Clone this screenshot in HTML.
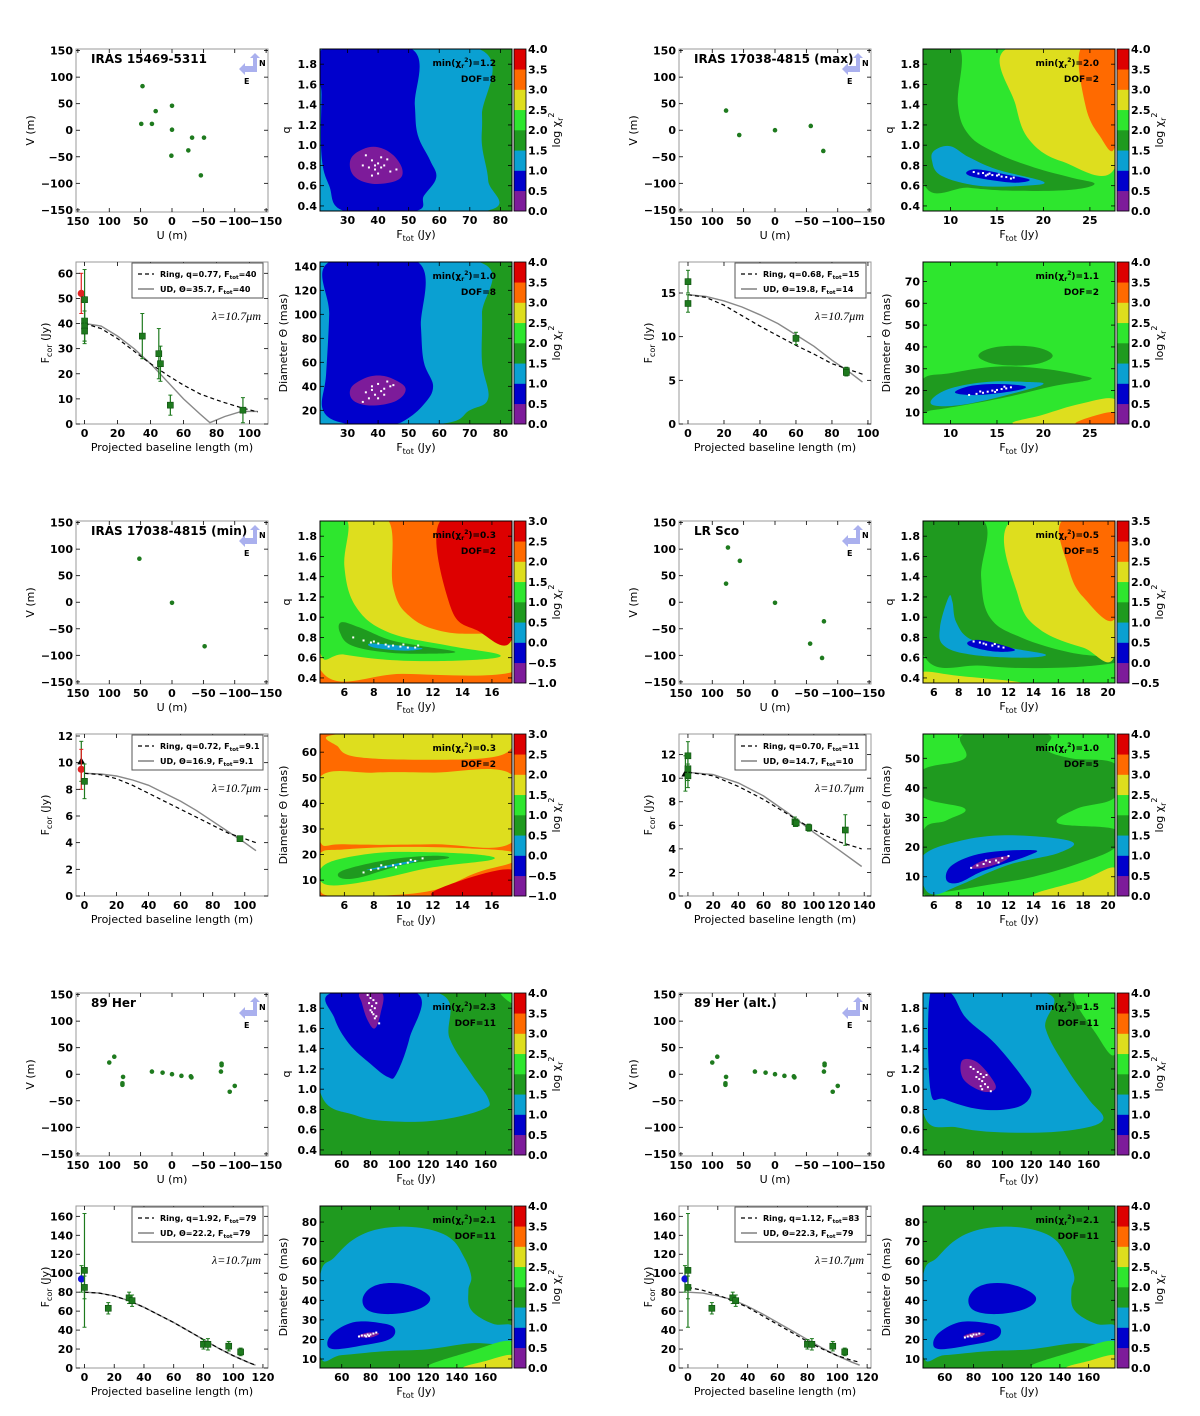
<!DOCTYPE html>
<html><head><meta charset="utf-8"><title>Interferometry fits</title>
<style>
html,body{margin:0;padding:0;background:#fff;}
svg{display:block;font-family:"DejaVu Sans","Liberation Sans",sans-serif;}
.tk{font-weight:bold;font-size:11px;fill:#000;}
.al{font-size:11px;fill:#000;}
</style></head>
<body>
<svg id="fig" width="1200" height="1416" viewBox="0 0 1200 1416" xmlns="http://www.w3.org/2000/svg"></svg>
<script>
// ---------- DATA ----------
const names=['IRAS 15469-5311','IRAS 17038-4815 (max)','IRAS 17038-4815 (min)','LR Sco','89 Her','89 Her (alt.)'];
// uv coverage
const uvU0=[47,26,0,49,32,0,-32,-51,-26,1,-46];
const uvV0=[83,36,46,12,12,1,-14,-14,-38,-48,-85];
const uvU1=[78,57,0,-57,-77];
const uvV1=[37,-9,0,8,-39];
const uvU2=[52,0,-52];
const uvV2=[82,-1,-83];
const uvU3=[75,56,78,0,-78,-56,-75];
const uvV3=[103,78,35,-1,-36,-78,-105];
const uvU4=[100,92,78,79,79,32,15,0,-15,-30,-31,-79,-79,-78,-92,-100];
const uvV4=[22,33,-5,-17,-20,5,3,0,-3,-4,-6,20,17,5,-33,-22];
const uvU5=[100,92,78,79,79,32,15,0,-15,-30,-31,-79,-79,-78,-92,-100];
const uvV5=[22,33,-5,-17,-20,5,3,0,-3,-4,-6,20,17,5,-33,-22];
// correlated flux measurements
const fxB0=[-2,0,0,0,0,35,45,46,52,96];
const fxF0=[52,49.5,41,39,37,35,28,24,7.5,5.5];
const fxE0=[8,12,8,6,5,9,10,7,4,5];
const fxC0=['r','g','g','g','g','g','g','g','g','g'];
const fxB1=[0,0,60,88,88];
const fxF1=[16.3,13.8,9.8,6.1,5.9];
const fxE1=[1.3,1,0.7,0.4,0.4];
const fxC1=['g','g','g','g','g'];
const fxB2=[-2,-2,0,97];
const fxF2=[10.1,9.5,8.6,4.3];
const fxE2=[1.5,1.5,1.3,0.2];
const fxC2=['k','r','g','g'];
const fxB3=[-2,0,0,0,85,86,96,125];
const fxF3=[10.4,11.9,10.8,10.2,6.3,6.2,5.8,5.6];
const fxE3=[1.5,1.2,1,1,0.4,0.3,0.3,1.3];
const fxC3=['k','g','g','g','g','g','g','g'];
const fxB4=[-2,0,0,16,30,32,80,83,97,105];
const fxF4=[94,103,85,63,74,71,25,25,23,17];
const fxE4=[14,60,12,6,6,6,5,6,5,4];
const fxC4=['b','g','g','g','g','g','g','g','g','g'];
const fxB5=[-2,0,0,16,30,32,80,83,97,105];
const fxF5=[94,103,85,63,74,71,25,25,23,17];
const fxE5=[14,60,12,6,6,6,5,6,5,4];
const fxC5=['b','g','g','g','g','g','g','g','g','g'];
// model curves
const mdB0=[0,10,20,30,40,50,60,70,76,85,95,105];
const ring0=[40,38,34,29,24,19.5,15.5,12,10.5,8.5,6.5,4.8];
const ud0=[40,39,35,30,24,17,10,4,0.5,3,5,5];
const mdB1=[0,10,20,30,40,50,60,70,80,90,97];
const ring1=[14.8,14.5,13.6,12.4,11.2,10.1,9,8,6.9,6.2,5.7];
const ud1=[14.8,14.6,14.1,13.4,12.5,11.5,10.2,8.9,7.3,5.9,4.8];
const mdB2=[0,10,20,30,40,50,60,70,80,90,100,107];
const ring2=[9.2,9.1,8.8,8.3,7.7,7.1,6.5,5.9,5.3,4.7,4.3,4.0];
const ud2=[9.2,9.15,9.0,8.7,8.3,7.7,7.1,6.4,5.6,4.8,4.0,3.4];
const mdB3=[0,20,40,60,80,100,120,138];
const ring3=[10.5,10.2,9.3,8.2,6.9,5.6,4.6,4.0];
const ud3=[10.5,10.3,9.6,8.5,7.0,5.4,3.9,2.5];
const mdB4=[0,10,20,30,40,50,60,70,80,90,100,110,115];
const ring4=[80,79,76,71,64,56,48,39,30,21,13,6,3];
const ud4=[80,79,76,71,64,56,48,39,30,21,13,6,3];
const mdB5=[0,10,20,30,40,50,60,70,80,90,100,110,115];
const ring5=[85,82,77,71,64,55,46,37,28,20,13,8,6];
const ud5=[80,79,76,72,65,57,48,39,30,21,13,6,3];
// chi2 contour regions (palette index, outline in data units)
const cqBg=[3,4,6,4,3,3];
const cdBg=[3,4,6,4,3,3];
const cq0=[[2,[[21,1.95],[73,1.95],[74,1.3],[74,1.0],[76,0.65],[75,0.35],[21,0.35]]],
 [1,[[22,1.95],[51,1.95],[52,1.4],[53,1.1],[57,0.85],[59,0.68],[55,0.5],[52,0.35],[29,0.35],[24,0.6],[21.5,0.9],[21.5,1.5]]],
 [0,[[35,0.96],[31,0.86],[32,0.7],[38,0.62],[46,0.65],[48,0.75],[45,0.9],[40,0.98]]]];
const cd0=[[2,[[21,143.6],[73,143.6],[74,100],[74,60],[76,30],[70,20],[60,8.6],[21,8.6]]],
 [1,[[24,143.6],[53,143.6],[54,90],[55,60],[58,40],[55,25],[49,12],[44,8.6],[30,8.6],[22,20],[23,50],[24,100]]],
 [0,[[35,46],[31,38],[32,28],[38,24],[46,28],[49,38],[45,46],[40,49]]]];
const cq1=[[5,[[16,1.95],[27.7,1.95],[27.7,0.78],[22,0.84],[18.5,1.05],[17,1.4]]],
 [6,[[24,1.95],[27.7,1.95],[27.7,1.0],[26,1.1],[24.5,1.4]]],
 [3,[[7,1.95],[11,1.95],[10.8,1.4],[12,1.1],[15,0.92],[19,0.78],[23,0.68],[25.5,0.62],[23,0.56],[17,0.55],[12,0.58],[7,0.65]]],
 [2,[[8.3,0.95],[10,0.99],[12,0.88],[15,0.76],[20,0.64],[18,0.6],[13,0.6],[9,0.7],[8,0.85]]],
 [1,[[11.8,0.74],[13,0.76],[16,0.71],[18.5,0.66],[17,0.63],[14,0.66],[12,0.7]]]];
const cd1=[[5,[[17,4.7],[27.7,4.7],[27.7,16],[24,14],[20,9]]],
 [6,[[23.5,4.7],[27.7,4.7],[27.7,10],[25.5,8.5]]],
 [3,[[7,25],[10,28],[15,31],[20,30],[24,27],[25,25],[21,22],[16,17],[11,13],[8,11],[7,11]]],
 [3,[[13,36],[15,40],[19,40],[21,36],[19,32],[15,32]]],
 [2,[[8.5,13],[8,16],[10,21],[14,24],[18,24],[20,23],[17,19],[12,14]]],
 [1,[[10.5,19],[12,22],[15,23],[18,22],[17,20],[13,18]]]];
const cq2=[[5,[[6.2,1.95],[9,1.95],[9.3,1.3],[10.5,1.0],[13,0.85],[17.4,0.8],[17.4,0.46],[10,0.44],[4.3,0.5],[4.3,1.95]]],
 [7,[[12.5,1.95],[17.4,1.95],[17.4,0.8],[15,0.87],[13.2,1.1]]],
 [4,[[4.3,1.95],[6.2,1.95],[6,1.5],[6.8,1.1],[9,0.85],[13,0.72],[16.5,0.63],[15,0.58],[10,0.57],[6,0.63],[4.3,0.7]]],
 [3,[[5.8,0.95],[7,0.9],[9,0.78],[11,0.72],[13.5,0.66],[12,0.64],[9,0.65],[6.5,0.72],[5.7,0.85]]],
 [2,[[7.8,0.74],[10,0.715],[11.3,0.69],[10,0.67],[8,0.7]]]];
const cd2=[[5,[[5.8,67.1],[17.4,67.1],[17.4,62],[16,58],[12,57],[7,58],[5.6,62]]],
 [5,[[4.3,50],[8,52],[12,52],[17.4,51],[17.4,25],[12,24],[6,24],[4.3,26]]],
 [5,[[4.3,20],[6,22],[10,23],[14,22.5],[17.4,21],[17.4,17],[15,13],[12,6],[8,3.8],[5,3.8],[4.3,8]]],
 [7,[[12,3.8],[17.4,3.8],[17.4,14],[14,10]]],
 [4,[[4.3,12],[5,17],[8,20.5],[11,21],[15,20],[16,18],[12,15],[8,10],[5,8]]],
 [3,[[5.7,11],[6,14],[9,18],[12,19.5],[13,18.5],[10,16],[7,11]]],
 [2,[[7.5,14],[10,17],[11,17.5],[9,15]]]];
const cq3=[[3,[[5.1,1.95],[10,1.95],[9.8,1.4],[10.5,1.0],[13,0.8],[17,0.65],[20.6,0.6],[20.6,0.55],[16,0.5],[10,0.52],[5.1,0.65]]],
 [5,[[12.2,1.95],[20.6,1.95],[20.6,0.65],[18,0.7],[14.5,0.88],[12.8,1.2]]],
 [6,[[16.3,1.95],[20.6,1.95],[20.6,1.0],[18,1.2],[16.8,1.5]]],
 [5,[[5.1,0.35],[13,0.35],[8,0.42],[5.1,0.46]]],
 [2,[[7.2,1.2],[7.5,1.15],[7.8,0.95],[9,0.78],[12,0.7],[15,0.63],[13,0.6],[9,0.63],[6.8,0.72],[6.5,0.9]]],
 [1,[[8.8,0.76],[10,0.77],[12.5,0.68],[11,0.66],[9,0.71]]]];
const cd3=[[3,[[8.5,58.2],[15,58.2],[15,53],[17,50],[20.6,48],[20.6,37],[17.5,33],[16,28],[20.6,26],[20.6,20],[18,15],[14,10],[10,7],[7,5],[5.1,5],[5.1,25],[7,29],[8.5,33],[5.1,37],[5.1,46],[8.5,50]]],
 [5,[[14,3.5],[20.6,3.5],[20.6,13],[18,9]]],
 [2,[[5.1,8],[5.1,17],[8,22],[12,24],[17,22],[16,18],[12,14],[8,7],[6,4]]],
 [1,[[7,9],[7.5,14],[10,18],[14,19],[13.5,17],[10,12],[8,8]]],
 [0,[[9,13],[10,15.5],[12,17],[11.5,15],[10,13]]]];
const cq4=[[2,[[44.9,1.95],[127,1.95],[135,1.5],[150,1.15],[162,0.9],[158,0.8],[130,0.7],[100,0.68],[70,0.74],[44.9,0.98]]],
 [4,[[170,1.95],[178.3,1.95],[178.3,1.85]]],
 [1,[[53,1.95],[112,1.95],[107,1.5],[98,1.15],[92,1.12],[80,1.25],[65,1.45],[55,1.7]]],
 [0,[[73,1.95],[88,1.95],[87,1.75],[83,1.6],[78,1.68],[74,1.85]]]];
const cd4=[[2,[[44.9,52],[55,62],[70,72],[90,77],[115,77],[135,72],[145,62],[150,52],[148,45],[150,35],[165,28],[178.3,27],[178.3,18],[150,18],[120,15],[90,14],[60,12],[44.9,12]]],
 [4,[[120,5.4],[178.3,5.4],[178.3,19],[150,14]]],
 [5,[[145,5.4],[178.3,5.4],[178.3,12],[160,9]]],
 [1,[[75,42],[85,48],[105,48],[121,42],[115,36],[95,33],[78,35]]],
 [1,[[50,18],[55,24],[70,29],[90,28],[97,25],[93,20],[75,17],[55,15]]],
 [0,[[71,21.5],[78,23.5],[86,23],[80,21]]]];
const cq5=[[4,[[150,1.95],[178.3,1.95],[178.3,1.35],[165,1.55]]],
 [2,[[44.9,1.95],[130,1.95],[130,1.6],[145,1.2],[160,0.9],[170,0.7],[150,0.6],[110,0.57],[70,0.62],[44.9,0.78]]],
 [1,[[50,1.95],[64,1.95],[75,1.7],[95,1.45],[115,1.1],[120,0.95],[110,0.82],[85,0.8],[60,0.9],[50,1.0]]],
 [0,[[72,1.28],[82,1.27],[93,1.1],[95,1.0],[86,0.98],[73,1.1]]]];
const cd5=[[2,[[44.9,52],[55,62],[70,72],[90,77],[115,77],[135,72],[145,62],[150,52],[148,45],[150,35],[165,28],[178.3,27],[178.3,18],[150,18],[120,15],[90,14],[60,12],[44.9,12]]],
 [4,[[120,5.4],[178.3,5.4],[178.3,19],[150,14]]],
 [5,[[145,5.4],[178.3,5.4],[178.3,12],[160,9]]],
 [1,[[77,42],[87,48],[107,48],[123,42],[117,36],[97,33],[80,35]]],
 [1,[[52,18],[57,24],[72,29],[92,28],[99,25],[95,20],[77,17],[57,15]]],
 [0,[[73,21.5],[80,23.5],[88,23],[82,21]]]];
// best-fit samples (white dots)
const sq0=[[36,0.9],[38,0.85],[40,0.82],[41,0.78],[39,0.76],[42,0.8],[44,0.74],[37,0.78],[40,0.72],[43,0.86],[35,0.8],[41,0.88],[39,0.8],[46,0.76],[38,0.7]];
const sd0=[[36,35],[38,40],[40,42],[42,38],[44,40],[39,33],[37,30],[41,36],[43,44],[45,41],[38,37],[40,30],[35,27],[42,33]];
const sq1=[[12.5,0.735],[13,0.72],[13.5,0.725],[14,0.71],[14.5,0.705],[15,0.7],[15.5,0.69],[16,0.685],[16.5,0.67],[14.2,0.72],[15.2,0.71],[16.8,0.68],[13.8,0.7]];
const sd1=[[12,18],[12.8,18.5],[13.5,19],[14,19.5],[14.5,20],[15,20.3],[15.5,20.7],[16,21],[16.5,21.5],[13.2,19.6],[14.8,19.4],[15.8,21.8]];
const sq2=[[6.6,0.8],[7.3,0.77],[7.8,0.75],[8.3,0.74],[8.8,0.73],[9.3,0.72],[9.8,0.71],[10.3,0.7],[10.8,0.7],[8,0.76],[9,0.71],[10,0.73],[11,0.72]];
const sd2=[[7.3,13],[7.8,14],[8.3,14.5],[8.8,15.2],[9.3,15.8],[9.8,16.3],[10.3,16.8],[10.8,17.5],[11.3,18.5],[8.5,15.8],[9.5,15],[10.5,17.9]];
const sq3=[[9.2,0.76],[9.7,0.75],[10.2,0.73],[10.7,0.72],[11.2,0.71],[11.6,0.7],[10,0.74],[10.9,0.735]];
const sd3=[[9,13],[9.5,13.8],[10,14.3],[10.5,15],[11,15.5],[11.5,16.3],[12,17],[10.2,15.5],[11.2,14.8]];
const sq4=[[78,1.93],[80,1.9],[82,1.88],[79,1.85],[81,1.82],[83,1.8],[80,1.78],[82,1.74],[84,1.72],[83,1.7],[86,1.65],[81,1.76],[84,1.85]];
const sd4=[[72,21.5],[74,22],[76,22],[78,22.5],[80,22.5],[82,23],[84,23.5],[77,21.5],[79,21.8]];
const sq5=[[80,1.2],[83,1.17],[85,1.15],[87,1.12],[84,1.1],[86,1.08],[88,1.05],[90,1.02],[82,1.12],[85,1.03],[89,1.14],[78,1.22],[92,0.98],[86,1.0]];
const sd5=[[74,21],[76,21.5],[78,22],[80,22.5],[82,22.5],[84,23],[79,21.5]];
// tick labels
const uvTicks=[150,100,50,0,-50,-100,-150];
const cbTicksStd=['0.0','0.5','1.0','1.5','2.0','2.5','3.0','3.5','4.0'];
const cbTicksMin=['−1.0','−0.5','0.0','0.5','1.0','1.5','2.0','2.5','3.0'];
const cbTicksLr=['−0.5','0.0','0.5','1.0','1.5','2.0','2.5','3.0','3.5'];
const minTop=['1.2','2.0','0.3','0.5','2.3','1.5'];
const minBot=['1.0','1.1','0.3','1.0','2.1','2.1'];
const dof=['8','2','2','5','11','11'];
const ringQ=['0.77','0.68','0.72','0.70','1.92','1.12'];
const ringF=['40','15','9.1','11','79','83'];
const udT=['35.7','19.8','16.9','14.7','22.2','22.3'];
const udF=['40','14','9.1','10','79','79'];

// ---------- DRAWING ----------
const PAL=['#7d1b9a','#0000cc','#0aa0d2','#1f9a1f','#2ee62e','#dede1e','#ff6a00','#dd0000'];
const NS='http://www.w3.org/2000/svg';
const svg=document.getElementById('fig');
function mk(tag,attrs,parent){const e=document.createElementNS(NS,tag);for(const k in attrs)e.setAttribute(k,attrs[k]);(parent||svg).appendChild(e);return e;}
function lin(d0,d1,r0,r1){return v=>r0+(v-d0)/(d1-d0)*(r1-r0);}
function fmtNeg(v){return v<0?'−'+(-v):String(v);}
function smooth(pts){const n=pts.length;let d='M'+pts[0][0].toFixed(1)+','+pts[0][1].toFixed(1);const t=0.18;
 for(let i=0;i<n;i++){const p0=pts[(i-1+n)%n],p1=pts[i],p2=pts[(i+1)%n],p3=pts[(i+2)%n];
  const c1=[p1[0]+(p2[0]-p0[0])*t,p1[1]+(p2[1]-p0[1])*t],c2=[p2[0]-(p3[0]-p1[0])*t,p2[1]-(p3[1]-p1[1])*t];
  d+='C'+c1[0].toFixed(1)+','+c1[1].toFixed(1)+' '+c2[0].toFixed(1)+','+c2[1].toFixed(1)+' '+p2[0].toFixed(1)+','+p2[1].toFixed(1);}
 return d+'Z';}
let clipId=0;
function frameTicks(g,x0,y0,x1,y1,col){
 const r=mk('rect',{x:x0,y:y0,width:x1-x0,height:y1-y0,fill:'none',stroke:col,'stroke-width':1},g);
 
 
}
function xTick(g,x,y0,y1,label,cls){
 mk('line',{x1:x,x2:x,y1:y1,y2:y1-4,stroke:'#000','stroke-width':0.8},g);
 mk('line',{x1:x,x2:x,y1:y0,y2:y0+4,stroke:'#000','stroke-width':0.8},g);
 const t=mk('text',{x:x,y:y1+13,'text-anchor':'middle',class:'tk'},g);t.textContent=label;
 
 
}
function yTick(g,y,x0,x1,label){
 mk('line',{x1:x0,x2:x0+4,y1:y,y2:y,stroke:'#000','stroke-width':0.8},g);
 mk('line',{x1:x1,x2:x1-4,y1:y,y2:y,stroke:'#000','stroke-width':0.8},g);
 const t=mk('text',{x:x0-3,y:y+4,'text-anchor':'end',class:'tk'},g);t.textContent=label;
 
 
}
function label(g,x,y,html,rot,name){
 const t=mk('text',{x:x,y:y,'text-anchor':'middle',class:'al',transform:rot?'rotate(-90 '+x+' '+y+')':''},g);
 t.innerHTML=html;
 
 
 return t;
}

function uvPanel(p,ox,oy,U,V){
 const g=mk('g',{});
 
 
 const x0=ox+76,x1=ox+268,y0=oy+49,y1=oy+212;
 const sx=lin(153,-153,x0,x1),sy=lin(153,-154,y0,y1);
 frameTicks(g,x0,y0,x1,y1,'#999');
 uvTicks.forEach(v=>{xTick(g,sx(v),y0,y1,fmtNeg(v));yTick(g,sy(v),x0,x1,fmtNeg(v));});
 for(let i=0;i<U.length;i++){
  const c=mk('circle',{cx:sx(U[i]),cy:sy(V[i]),r:2.3,fill:'#1e7a1e'},g);
  
  
 }
 const ti=mk('text',{x:x0+15,y:y0+14,'font-weight':'bold','font-size':'12px'},g);ti.textContent=names[p];
 
 
 // compass
 const cg=mk('g',{},g);
 
 
 const ax=x1-13,ay=y0+4;
 mk('polygon',{points:`${ax-2},${ay+15} ${ax-2},${ay+5} ${ax-5},${ay+5} ${ax},${ay} ${ax+5},${ay+5} ${ax+2},${ay+5} ${ax+2},${ay+15}`,fill:'#aab0ee'},cg);
 mk('polygon',{points:`${ax+2},${ay+13} ${ax-10},${ay+13} ${ax-10},${ay+10} ${ax-16},${ay+16} ${ax-10},${ay+22} ${ax-10},${ay+19} ${ax+2},${ay+19}`,fill:'#aab0ee'},cg);
 const tn=mk('text',{x:ax+4,y:ay+13,'font-weight':'bold','font-size':'8px'},cg);tn.textContent='N';
 const te=mk('text',{x:ax-11,y:ay+31,'font-weight':'bold','font-size':'8px'},cg);te.textContent='E';
 label(g,(x0+x1)/2,oy+239,'U (m)',false,'x-axis-title');
 label(g,ox+34,(y0+y1)/2,'V (m)',true,'y-axis-title');
}

function fluxPanel(p,ox,oy,B,F,E,C,mB,ring,ud,xr,yr,xt,yt){
 const g=mk('g',{});
 
 
 const x0=ox+76,x1=ox+268,y0=oy+262,y1=oy+424;
 const sx=lin(xr[0],xr[1],x0,x1),sy=lin(yr[0],yr[1],y1,y0);
 const id='c'+(clipId++);
 const cp=mk('clipPath',{id:id},g);mk('rect',{x:x0,y:y0,width:x1-x0,height:y1-y0},cp);
 const inner=mk('g',{'clip-path':'url(#'+id+')'},g);
 let dU='',dR='';
 mB.forEach((b,i)=>{dU+=(i?'L':'M')+sx(b).toFixed(1)+','+sy(ud[i]).toFixed(1);dR+=(i?'L':'M')+sx(b).toFixed(1)+','+sy(ring[i]).toFixed(1);});
 const lu=mk('path',{d:dU,fill:'none',stroke:'#888','stroke-width':1.4},inner);
 
 
 const lr=mk('path',{d:dR,fill:'none',stroke:'#000','stroke-width':1.2,'stroke-dasharray':'4,3'},inner);
 
 
 const colMap={g:'#1e7a1e',r:'#e02020',k:'#000',b:'#1010dd'};
 B.forEach((b,i)=>{
  const cx=sx(b),cy=sy(F[i]),col=colMap[C[i]];
  const eb=mk('line',{x1:cx,x2:cx,y1:sy(F[i]+E[i]),y2:sy(F[i]-E[i]),stroke:C[i]==='r'?'#e02020':'#1e7a1e','stroke-width':1.2},inner);
  
  
  mk('line',{x1:cx-2,x2:cx+2,y1:sy(F[i]+E[i]),y2:sy(F[i]+E[i]),stroke:eb.getAttribute('stroke'),'stroke-width':1},inner);
  mk('line',{x1:cx-2,x2:cx+2,y1:sy(F[i]-E[i]),y2:sy(F[i]-E[i]),stroke:eb.getAttribute('stroke'),'stroke-width':1},inner);
  let m;
  if(C[i]==='g') m=mk('rect',{x:cx-3,y:cy-3,width:6,height:6,fill:col,stroke:'#0d4d0d','stroke-width':0.6},inner);
  else if(C[i]==='k') m=mk('polygon',{points:`${cx},${cy-4} ${cx+4},${cy+3} ${cx-4},${cy+3}`,fill:col},inner);
  else m=mk('circle',{cx:cx,cy:cy,r:3.6,fill:col},inner);
  
  
 });
 frameTicks(g,x0,y0,x1,y1,'#999');
 xt.forEach(v=>xTick(g,sx(v),y0,y1,String(v)));
 yt.forEach(v=>yTick(g,sy(v),x0,x1,String(v)));
 // legend
 const lg=mk('g',{},g);
 
 
 mk('rect',{x:ox+132,y:oy+263,width:131,height:35,fill:'#fff',stroke:'#555','stroke-width':1},lg);
 mk('line',{x1:ox+138,x2:ox+154,y1:oy+274,y2:oy+274,stroke:'#000','stroke-dasharray':'4,3','stroke-width':1.2},lg);
 mk('line',{x1:ox+138,x2:ox+154,y1:oy+289,y2:oy+289,stroke:'#888','stroke-width':1.6},lg);
 const l1=mk('text',{x:ox+160,y:oy+277,'font-size':'8px','font-weight':'bold'},lg);
 l1.innerHTML='Ring, q='+ringQ[p]+', F<tspan font-size="5.5" dy="2">tot</tspan><tspan dy="-2">='+ringF[p]+'</tspan>';
 
 
 const l2=mk('text',{x:ox+160,y:oy+292,'font-size':'8px','font-weight':'bold'},lg);
 l2.innerHTML='UD, Θ='+udT[p]+', F<tspan font-size="5.5" dy="2">tot</tspan><tspan dy="-2">='+udF[p]+'</tspan>';
 
 
 const lam=mk('text',{x:ox+261,y:oy+320,'text-anchor':'end','font-family':'Liberation Serif, serif','font-style':'italic','font-size':'12px'},g);
 lam.textContent='λ=10.7μm';
 
 
 label(g,(x0+x1)/2,oy+451,'Projected baseline length (m)',false,'x-axis-title');
 label(g,ox+49,(y0+y1)/2,'F<tspan font-size="8" dy="3">cor</tspan><tspan dy="-3"> (Jy)</tspan>',true,'y-axis-title');
}

function contourPanel(ox,oy,bg,layers,dots,xr,yr,xt,yt,ytFmt,cbT,minTxt,dofTxt,ylab,name){
 const g=mk('g',{});
 
 
 const x0=ox+320,x1=ox+512,y0=oy,y1=oy+162;
 const sx=lin(xr[0],xr[1],x0,x1),sy=lin(yr[0],yr[1],y1,y0);
 const id='c'+(clipId++);
 const cp=mk('clipPath',{id:id},g);mk('rect',{x:x0,y:y0,width:x1-x0,height:y1-y0},cp);
 const inner=mk('g',{'clip-path':'url(#'+id+')'},g);
 const b=mk('rect',{x:x0,y:y0,width:x1-x0,height:y1-y0,fill:PAL[bg]},inner);
 
 
 layers.forEach(L=>{
  const pts=L[1].map(q=>[sx(q[0]),sy(q[1])]);
  const pa=mk('path',{d:smooth(pts),fill:PAL[L[0]]},inner);
  
  
 });
 dots.forEach(d=>{
  const c=mk('rect',{x:sx(d[0])-1,y:sy(d[1])-1,width:2,height:2,fill:'#fff'},inner);
  
  
 });
 frameTicks(g,x0,y0,x1,y1,'#000');
 xt.forEach(v=>xTick(g,sx(v),y0,y1,String(v)));
 yt.forEach(v=>yTick(g,sy(v),x0,x1,ytFmt(v)));
 const a1=mk('text',{x:x1-16,y:y0+17,'text-anchor':'end','font-size':'9px','font-weight':'bold'},g);
 a1.innerHTML='min(χ<tspan font-size="6" dy="2">r</tspan><tspan font-size="6" dy="-6">2</tspan><tspan dy="4">)='+minTxt+'</tspan>';
 
 
 const a2=mk('text',{x:x1-16,y:y0+33,'text-anchor':'end','font-size':'9px','font-weight':'bold'},g);
 a2.textContent='DOF='+dofTxt;
 
 
 // colorbar
 const cb=mk('g',{},g);
 
 
 const cx0=x1+2,cw=12,h=(y1-y0)/8;
 for(let i=0;i<8;i++){
  const r=mk('rect',{x:cx0,y:y1-(i+1)*h,width:cw,height:h+0.3,fill:PAL[i]},cb);
  
  
 }
 mk('rect',{x:cx0,y:y0,width:cw,height:y1-y0,fill:'none',stroke:'#000','stroke-width':0.8},cb);
 cbT.forEach((t,i)=>{const tx=mk('text',{x:cx0+cw+2,y:y1-i*h+4,class:'tk'},cb);tx.textContent=t;});
 label(g,cx0+cw+34,(y0+y1)/2,'log χ<tspan font-size="8" dy="3">r</tspan><tspan font-size="8" dy="-9">2</tspan>',true,'colorbar-title');
 label(g,(x0+x1)/2,y1+27,'F<tspan font-size="8" dy="3">tot</tspan><tspan dy="-3"> (Jy)</tspan>',false,'x-axis-title');
 label(g,ylab==='q'?ox+290:ox+287,(y0+y1)/2,ylab,true,'y-axis-title');
}

const UVU=[uvU0,uvU1,uvU2,uvU3,uvU4,uvU5],UVV=[uvV0,uvV1,uvV2,uvV3,uvV4,uvV5];
const FB=[fxB0,fxB1,fxB2,fxB3,fxB4,fxB5],FF=[fxF0,fxF1,fxF2,fxF3,fxF4,fxF5],FE=[fxE0,fxE1,fxE2,fxE3,fxE4,fxE5],FC=[fxC0,fxC1,fxC2,fxC3,fxC4,fxC5];
const MB=[mdB0,mdB1,mdB2,mdB3,mdB4,mdB5],MR=[ring0,ring1,ring2,ring3,ring4,ring5],MU=[ud0,ud1,ud2,ud3,ud4,ud5];
const CQ=[cq0,cq1,cq2,cq3,cq4,cq5],CD=[cd0,cd1,cd2,cd3,cd4,cd5],SQ=[sq0,sq1,sq2,sq3,sq4,sq5],SD=[sd0,sd1,sd2,sd3,sd4,sd5];
function rng(a,b,s){const o=[];for(let v=a;v<=b+1e-9;v+=s)o.push(Math.round(v*100)/100);return o;}
const fxXR=[[-5.2,111.2],[-5,101.7],[-5.3,114.5],[-7.1,145.4],[-5.7,123.4],[-6,122.6]];
const fxYR=[[0,64.5],[0,18.55],[0,12.15],[0,13.75],[0,170.9],[0,170.9]];
const fxXT=[rng(0,100,20),rng(0,100,20),rng(0,100,20),rng(0,140,20),rng(0,120,20),rng(0,120,20)];
const fxYT=[rng(0,60,10),rng(0,15,5),rng(0,12,2),rng(0,12,2),rng(0,160,20),rng(0,160,20)];
const cXR=[[21,83.8],[7.04,27.7],[4.35,17.36],[5.13,20.56],[44.9,178.3],[44.9,178.3]];
const cXT=[rng(30,80,10),rng(10,25,5),rng(6,16,2),rng(6,20,2),rng(60,160,20),rng(60,160,20)];
const dYR=[[8.6,143.6],[4.7,78.9],[3.8,67.1],[3.5,58.2],[5.4,88.2],[5.4,88.2]];
const dYT=[rng(20,140,20),rng(10,70,10),rng(10,60,10),rng(10,50,10),rng(10,80,10),rng(10,80,10)];
const cbTop=[cbTicksStd,cbTicksStd,cbTicksMin,cbTicksLr,cbTicksStd,cbTicksStd];
const cbBot=[cbTicksStd,cbTicksStd,cbTicksMin,cbTicksStd,cbTicksStd,cbTicksStd];
for(let p=0;p<6;p++){
 const ox=(p%2)*603,oy=Math.floor(p/2)*472;
 uvPanel(p,ox,oy,UVU[p],UVV[p]);
 contourPanel(ox,oy+49,cqBg[p],CQ[p],SQ[p],cXR[p],[0.35,1.95],cXT[p],rng(0.4,1.8,0.2),v=>v.toFixed(1),cbTop[p],minTop[p],dof[p],'q','chi2-map-q');
 fluxPanel(p,ox,oy,FB[p],FF[p],FE[p],FC[p],MB[p],MR[p],MU[p],fxXR[p],fxYR[p],fxXT[p],fxYT[p]);
 contourPanel(ox,oy+262,cdBg[p],CD[p],SD[p],cXR[p],dYR[p],cXT[p],dYT[p],v=>String(v),cbBot[p],minBot[p],dof[p],'Diameter Θ (mas)','chi2-map-diameter');
}
</script>
</body></html>
